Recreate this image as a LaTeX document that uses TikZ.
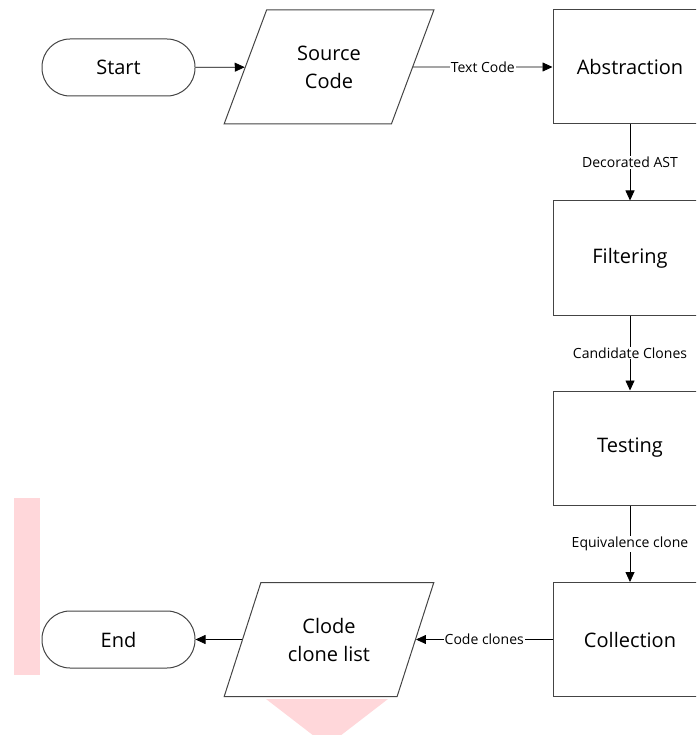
\documentclass[tikz,border=0pt]{standalone}
\usepackage{fontspec}
\setmainfont{Open Sans}
\usetikzlibrary{shapes.geometric,arrows.meta}
\definecolor{edge}{HTML}{444444}
\definecolor{blush}{HTML}{FFD7DA}
\tikzset{
  every node/.style={font=\fontsize{20}{28}\selectfont},
  terminal/.style={draw=edge, line width=1pt, rounded corners=28pt,
    minimum width=153pt, minimum height=57pt, inner sep=0pt},
  iobox/.style={draw=edge, line width=1pt, trapezium, trapezium stretches=true,
    trapezium left angle=63, trapezium right angle=117,
    minimum width=210pt, minimum height=114pt, inner sep=0pt, align=center},
  process/.style={draw=edge, line width=1pt, minimum width=154pt,
    minimum height=114pt, inner sep=0pt},
  flow/.style={draw=black, line width=0.8pt, -{Triangle[length=10pt,width=9pt]}},
  tag/.style={fill=white, inner sep=1pt, font=\fontsize{14}{16}\selectfont}
}
\begin{document}
\begin{tikzpicture}[x=1pt, y=-1pt]
\useasboundingbox (0,0) rectangle (696,735);
\clip (0,0) rectangle (696,735);

% highlight marks
\fill[blush] (14,498) rectangle (40,675);
\fill[blush] (266,699) -- (388,699) -- (327,746) -- cycle;

% shapes
\node[terminal] (start) at (118.5,67.5) {Start};
\node[iobox] (src) at (329,67) {Source\\Code};
\node[process] (abs) at (630,67) {Abstraction};
\node[process] (filt) at (630,258) {Filtering};
\node[process] (test) at (630,448) {Testing};
\node[process] (coll) at (630,639.5) {Collection};
\node[iobox] (list) at (329,639.5) {Clode\\clone list};
\node[terminal] (end) at (118.5,639.5) {End};

% connectors
\draw[flow] (start) -- (src);
\draw[flow] (src) -- node[tag] {Text Code} (abs);
\draw[flow] (abs) -- node[tag] {Decorated AST} (filt);
\draw[flow] (filt) -- node[tag] {Candidate Clones} (test);
\draw[flow] (test) -- node[tag] {Equivalence clone} (coll);
\draw[flow] (coll) -- node[tag] {Code clones} (list);
\draw[flow] (list) -- (end);
\end{tikzpicture}
\end{document}
